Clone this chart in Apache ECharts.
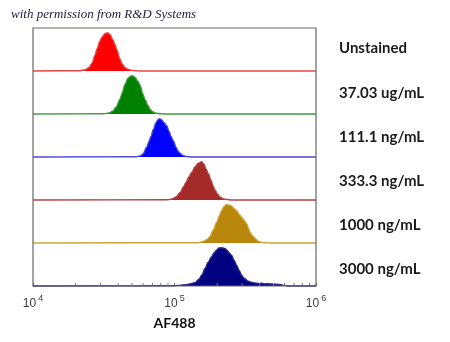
<!DOCTYPE html>
<html><head><meta charset="utf-8">
<script src="https://cdn.jsdelivr.net/npm/echarts@6/dist/echarts.min.js"></script>
<style>html,body{margin:0;padding:0;background:#fff}#c{width:450px;height:342px}</style>
</head><body><div id="c"></div>
<script>
// Sample labels (top to bottom)
var categories = ['Unstained', '37.03 ug/mL', '111.1 ng/mL', '333.3 ng/mL', '1000 ng/mL', '3000 ng/mL'];
var xTickValues = [1e4, 1e5, 1e6];
var minorTicks = [2e4,3e4,4e4,5e4,6e4,7e4,8e4,9e4,2e5,3e5,4e5,5e5,6e5,7e5,8e5,9e5];
var xTitle = 'AF488';
var credit = 'with permission from R&D Systems';

// Histogram outlines: [AF488 intensity, normalized count]
var unstained = [[21490,0.007],[23310,0.028],[24870,0.08],[26120,0.18],[27430,0.37],[28340,0.52],[29750,0.70],[30740,0.79],[32270,0.87],[33620,0.89],[35010,0.85],[36770,0.72],[37980,0.62],[39230,0.48],[41190,0.28],[42560,0.17],[44690,0.08],[46920,0.04],[49270,0.02],[53440,0.005],[57050,0]];
var c37ug = [[31750,0.005],[34440,0.023],[36770,0.07],[38610,0.16],[41190,0.34],[42560,0.48],[44690,0.69],[46920,0.83],[48870,0.88],[50490,0.89],[52580,0.85],[55210,0.76],[57050,0.67],[59900,0.46],[61870,0.34],[64970,0.2],[67120,0.11],[70480,0.046],[74000,0.018],[78980,0.005],[84300,0]];
var c111ng = [[53440,0.005],[57050,0.023],[59900,0.07],[63610,0.23],[66030,0.36],[68210,0.48],[70830,0.64],[74000,0.8],[76450,0.87],[78340,0.89],[80930,0.87],[84300,0.8],[88100,0.73],[91450,0.6],[94470,0.48],[98060,0.38],[102500,0.23],[105800,0.14],[109400,0.09],[114800,0.034],[122500,0.01],[133000,0]];
var c333ng = [[89970,0.005],[96010,0.023],[102500,0.07],[109400,0.17],[115400,0.3],[120600,0.41],[126600,0.54],[132300,0.64],[139600,0.77],[146600,0.85],[155700,0.89],[161600,0.83],[167000,0.72],[173400,0.61],[181100,0.46],[187100,0.33],[193300,0.23],[201300,0.14],[209700,0.07],[220200,0.03],[235000,0.01],[255000,0]];
var c1000ng = [[146600,0.007],[159000,0.034],[169700,0.08],[178200,0.15],[187100,0.29],[198700,0.48],[206300,0.62],[215600,0.75],[223800,0.85],[231200,0.89],[242800,0.885],[253700,0.86],[263400,0.8],[275200,0.75],[285700,0.67],[298500,0.6],[309900,0.53],[323800,0.45],[333400,0.34],[341700,0.25],[355800,0.17],[370600,0.11],[389100,0.046],[408600,0.018],[436100,0.005],[473000,0]];
var c3000ng = [[96010,0.005],[105800,0.014],[118700,0.028],[128700,0.05],[139600,0.078],[149000,0.16],[156400,0.26],[164300,0.41],[172500,0.55],[183200,0.68],[190200,0.77],[198700,0.84],[206300,0.885],[216600,0.89],[227500,0.87],[236900,0.82],[244700,0.76],[253700,0.71],[263400,0.6],[275200,0.48],[285700,0.37],[298500,0.25],[309900,0.18],[332300,0.11],[352900,0.08],[370600,0.07],[389100,0.06],[413300,0.064],[436100,0.05],[457900,0.055],[486400,0.046],[521700,0.041],[556700,0.034],[584600,0.018],[613800,0.009],[655300,0]];

var seriesData = [unstained, c37ug, c111ng, c333ng, c1000ng, c3000ng];
var fillColors = ['#ff0000', '#008000', '#0000ff', '#a52a2a', '#b8860b', '#000080'];
var lineColors = ['#e84848', '#3f9a3f', '#4848d0', '#b84040', '#cca638', '#2a2a90'];

var chart = echarts.init(document.getElementById('c'), null, {renderer: 'canvas'});
var grids = [], xAxes = [], yAxes = [], series = [];
var L = 33, W = 283, T = 28, H = 43;
for (var i = 0; i < 6; i++) {
  var last = i === 5;
  grids.push({left: L, width: W, top: T + H * i, height: H, show: false});
  xAxes.push({
    gridIndex: i, type: 'log', logBase: 10, min: xTickValues[0], max: xTickValues[2],
    axisLine: {show: false},
    splitLine: {show: false},
    axisTick: {show: last, inside: true, length: 3, lineStyle: {color: '#666', width: 1}},
    axisLabel: {
      show: last, margin: 8,
      formatter: function (v) { return '{b|10}{s|' + Math.round(Math.log10(v)) + '}'; },
      rich: {
        b: {fontFamily: 'Liberation Sans', fontSize: 12, color: '#3a3a3a', lineHeight: 16, verticalAlign: 'bottom'},
        s: {fontFamily: 'Liberation Sans', fontSize: 9, color: '#3a3a3a', lineHeight: 10, verticalAlign: 'top', padding: [0, 0, 0, 2]}
      }
    },
    name: last ? xTitle : '', nameLocation: 'middle', nameGap: 30,
    nameTextStyle: {fontFamily: 'Lato', fontWeight: 'bold', fontSize: 14, color: '#111'}
  });
  yAxes.push({gridIndex: i, type: 'value', min: 0, max: 1, show: false});
  var d = [[xTickValues[0], 0]].concat(seriesData[i]).concat([[xTickValues[2], 0]]);
  series.push({
    type: 'line', xAxisIndex: i, yAxisIndex: i, data: d, showSymbol: false, symbol: 'none',
    smooth: 0.35, smoothMonotone: 'x', clip: false,
    lineStyle: {color: lineColors[i], width: 1.4},
    areaStyle: {color: fillColors[i], opacity: 1, origin: 'start'},
    silent: true
  });
}
// outer frame
grids.push({left: L, width: W, top: T, height: H * 6, show: true, borderColor: '#666', borderWidth: 1.2, backgroundColor: 'transparent', z: 5});
xAxes.push({gridIndex: 6, type: 'value', show: false});
yAxes.push({gridIndex: 6, type: 'value', show: false});

// minor ticks on bottom axis
series.push({
  type: 'custom', xAxisIndex: 5, yAxisIndex: 5, silent: true, z: 6,
  data: minorTicks.map(function (v) { return [v, 0]; }),
  encode: {x: 0, y: 1},
  renderItem: function (params, api) {
    var p = api.coord([api.value(0), 0]);
    return {type: 'line', shape: {x1: p[0], y1: p[1], x2: p[0], y2: p[1] - 3}, style: {stroke: '#777', lineWidth: 1}};
  }
});

var graphics = [{
  type: 'text', left: 11, top: 8,
  style: {text: credit, font: 'italic 13px "Liberation Serif"', fill: '#1c1c40'}
}];
for (var j = 0; j < categories.length; j++) {
  graphics.push({
    type: 'text', left: 339, top: 48 + j * 44.2 - 7,
    style: {text: categories[j], font: 'bold 15px Lato', fill: '#1a1a1a'}
  });
}

chart.setOption({
  animation: false,
  backgroundColor: '#fff',
  grid: grids, xAxis: xAxes, yAxis: yAxes, series: series,
  graphic: graphics
});
</script></body></html>
